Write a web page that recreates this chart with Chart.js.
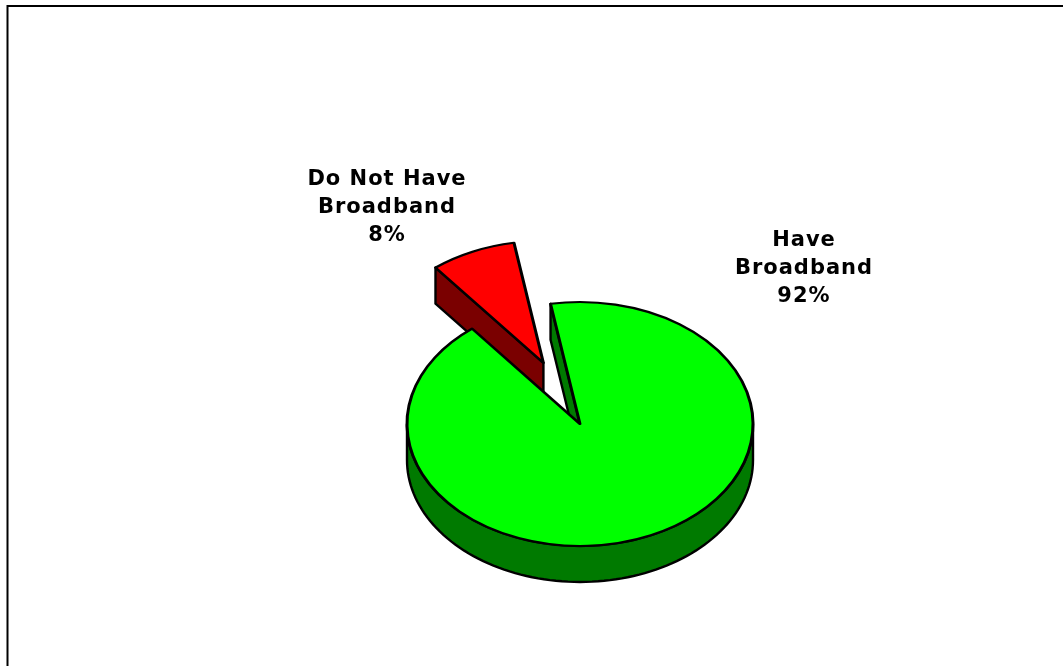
<!DOCTYPE html>
<html><head><meta charset="utf-8">
<style>html,body{margin:0;padding:0;background:#fff}#w{position:absolute;left:0;top:0;width:1063px;height:666px}</style>
<script src="https://cdn.jsdelivr.net/npm/chart.js@4/dist/chart.umd.min.js"></script>
</head><body><div id="w"><canvas id="c"></canvas></div>
<script>
const categories = ["Have Broadband", "Do Not Have Broadband"];
const labelLines = [["Have","Broadband"],["Do Not Have","Broadband"]];
const values = [92, 8];
const topColors = ["#00ff00", "#ff0000"];
const sideColors = ["#007a00", "#7a0000"];
const explode = [0, 94];
const explodeDirection = [0, -112.9];
const labelBaselines = [[804, 246], [387, 185]];

const SQUASH = 0.705, DEPTH = 36;
const tilt = {
  id: 'tilt',
  afterDatasetsUpdate(chart){
    chart.getDatasetMeta(0).data.forEach((a,i)=>{
      const dir = explodeDirection[i]*Math.PI/180;
      a.x += Math.cos(dir)*explode[i];
      a.y += Math.sin(dir)*explode[i];
    });
  },
  beforeDraw(chart){
    const c = chart.ctx;
    c.save();
    c.fillStyle = '#fff'; c.fillRect(0,0,chart.width,chart.height);
    c.strokeStyle = '#000'; c.lineWidth = 2;
    c.beginPath(); c.moveTo(7.5,666); c.lineTo(7.5,6); c.lineTo(1063,6); c.stroke();
    c.restore();
  },
  beforeDatasetsDraw(chart){
    const c = chart.ctx, arcs = chart.getDatasetMeta(0).data;
    const base = (chart.chartArea.top + chart.chartArea.bottom)/2;
    const Y = y => base + (y-base)*SQUASH;
    c.save();
    c.lineJoin = 'round'; c.lineWidth = 2.4; c.strokeStyle = '#000';
    [1,0].forEach(i=>{
      const a = arcs[i];
      const ax = a.x, ay = a.y;
      const px = t => ax + Math.cos(t)*a.outerRadius;
      const py = t => ay + Math.sin(t)*a.outerRadius;
      c.fillStyle = sideColors[i];
      const t = a.startAngle;
      c.beginPath();
      c.moveTo(ax,Y(ay)); c.lineTo(px(t),Y(py(t)));
      c.lineTo(px(t),Y(py(t))+DEPTH); c.lineTo(ax,Y(ay)+DEPTH); c.closePath();
      c.fill(); c.stroke();
      if(i===0){
        c.beginPath();
        c.moveTo(px(0),Y(py(0)));
        for(let d=0;d<=180;d+=2){const r=d*Math.PI/180;c.lineTo(px(r),Y(py(r))+DEPTH);}
        for(let d=180;d>=0;d-=2){const r=d*Math.PI/180;c.lineTo(px(r),Y(py(r)));}
        c.closePath(); c.fill(); c.stroke();
      }
    });
    c.restore();
    c.save();
    c.translate(0,base); c.scale(1,SQUASH); c.translate(0,-base);
  },
  afterDatasetsDraw(chart){
    const c = chart.ctx;
    c.restore();
    c.save();
    c.fillStyle='#000'; c.font='bold 21px "DejaVu Sans"'; c.textAlign='center'; c.textBaseline='alphabetic';
    if('letterSpacing' in c) c.letterSpacing='1px';
    const total = values.reduce((s,v)=>s+v,0);
    values.forEach((v,i)=>{
      const lines=[...labelLines[i], Math.round(v/total*100)+'%'];
      lines.forEach((t,k)=>c.fillText(t,labelBaselines[i][0],labelBaselines[i][1]+k*28));
    });
    c.restore();
  }
};
new Chart(document.getElementById('c'),{
  type:'pie',
  plugins:[tilt],
  data:{labels:categories,datasets:[{data:values,backgroundColor:topColors,borderColor:'#000',borderWidth:3,borderJoinStyle:'round',borderAlign:'center',clip:false}]},
  options:{
    responsive:true,maintainAspectRatio:false,animation:false,
    radius:173,rotation:-9.8,
    layout:{padding:{left:97,top:182,right:0,bottom:0}},
    plugins:{legend:{display:false},tooltip:{enabled:false},title:{display:false}}
  }
});
</script></body></html>
